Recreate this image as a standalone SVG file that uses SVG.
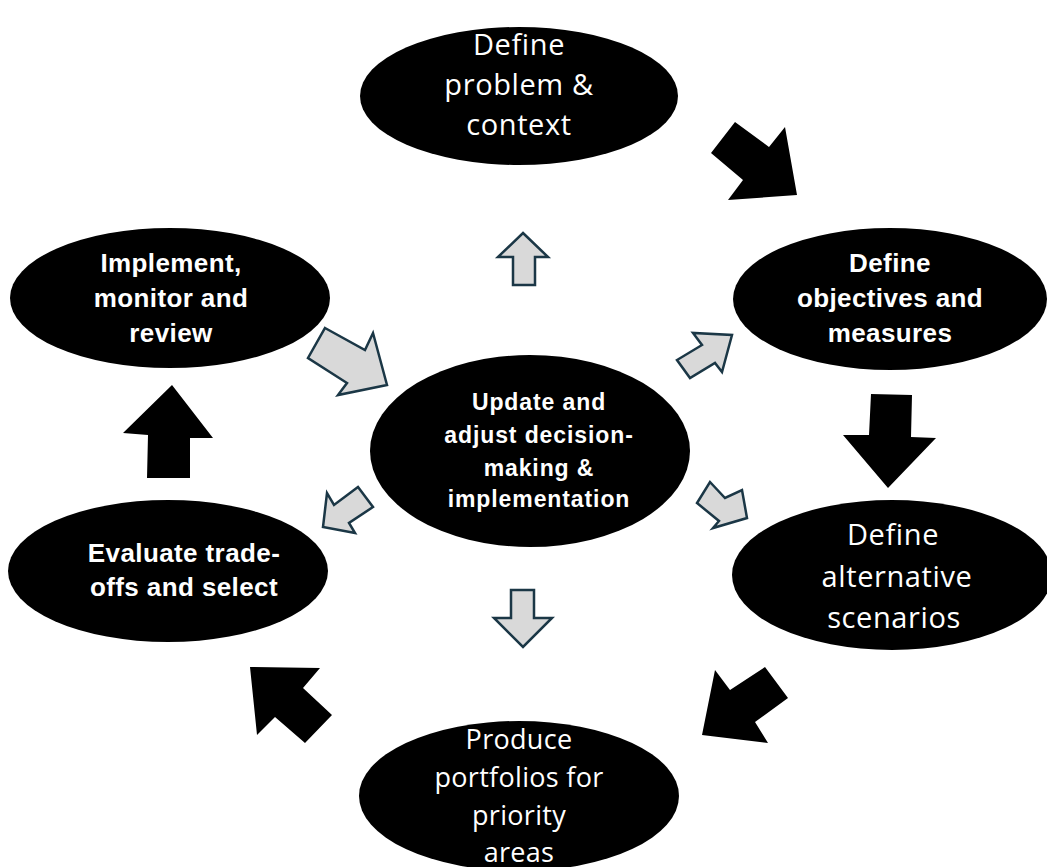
<svg xmlns="http://www.w3.org/2000/svg" width="1047" height="867" viewBox="0 0 1047 867">
  <style>
    .node { fill: #000; }
    .reg { font-family: "Open Sans", "Liberation Sans", sans-serif; font-size: 29px; letter-spacing: 0.6px; fill: #fff; text-anchor: middle; }
    .reg.small { font-size: 27px; letter-spacing: 0.3px; }
    .bold { font-family: "Liberation Sans", Arial, sans-serif; font-weight: bold; font-size: 26px; letter-spacing: 0.4px; fill: #fff; text-anchor: middle; }
    .hub { font-family: "Liberation Sans", Arial, sans-serif; font-weight: bold; font-size: 23px; letter-spacing: 0.9px; fill: #fff; text-anchor: middle; }
    .solid { fill: #000; }
    .light { fill: #d9d9d9; stroke: #1b3746; stroke-width: 2.5; stroke-linejoin: miter; }
  </style>
  <rect width="1047" height="867" fill="#fff"/>

  <g id="connectors">
    <!-- outer cycle: solid black block arrows -->
    <polygon class="solid" points="735,122 769,147 785,127 797,195 728,200 743,180 711,153"/>
    <polygon class="solid" points="871,394 912,395 911,437 936,438 888,488 843,435 869,435"/>
    <polygon class="solid" points="765,667 788,698 755,722 768,743 702,735 715,670 730,690"/>
    <polygon class="solid" points="250,667 320,668 303,688 332,715 305,743 275,717 257,735"/>
    <polygon class="solid" points="172,385 213,438 190,438 190,478 147,478 148,435 123,433"/>
    <!-- feedback hub: outlined grey block arrows -->
    <polygon class="light" points="325,328 365,350 373,333 387,385 338,395 347,383 308,358"/>
    <polygon class="light" points="523,233 548,257 535,257 535,285 513,285 513,257 498,257"/>
    <polygon class="light" points="732,335 722,372 715,363 690,378 677,360 702,345 693,333"/>
    <polygon class="light" points="710,482 725,498 742,490 747,518 713,528 719,521 697,503"/>
    <polygon class="light" points="358,487 373,507 349,523 355,533 323,527 327,493 334,505"/>
    <polygon class="light" points="511,590 534,590 534,618 552,618 523,647 494,618 511,618"/>
  </g>

  <g id="define-problem">
    <ellipse class="node" cx="519" cy="96" rx="159" ry="69"/>
    <text class="reg" x="519" y="55">Define</text>
    <text class="reg" x="519" y="95">problem &amp;</text>
    <text class="reg" x="519" y="135">context</text>
  </g>

  <g id="define-objectives">
    <ellipse class="node" cx="890" cy="299" rx="157" ry="71"/>
    <text class="bold" x="890" y="272">Define</text>
    <text class="bold" x="890" y="307">objectives and</text>
    <text class="bold" x="890" y="342">measures</text>
  </g>

  <g id="define-scenarios">
    <ellipse class="node" cx="892" cy="575" rx="160" ry="75"/>
    <text class="reg" x="893" y="545">Define</text>
    <text class="reg" x="897" y="587">alternative</text>
    <text class="reg" x="894" y="628">scenarios</text>
  </g>

  <g id="produce-portfolios">
    <ellipse class="node" cx="519" cy="796" rx="160" ry="75"/>
    <text class="reg small" x="519" y="749">Produce</text>
    <text class="reg small" x="519" y="787">portfolios for</text>
    <text class="reg small" x="519" y="825">priority</text>
    <text class="reg small" x="519" y="862">areas</text>
  </g>

  <g id="evaluate-tradeoffs">
    <ellipse class="node" cx="168" cy="571" rx="160" ry="71"/>
    <text class="bold" x="184" y="562">Evaluate trade-</text>
    <text class="bold" x="184" y="596">offs and select</text>
  </g>

  <g id="implement-review">
    <ellipse class="node" cx="170" cy="298" rx="160" ry="70"/>
    <text class="bold" x="171" y="272">Implement,</text>
    <text class="bold" x="171" y="307">monitor and</text>
    <text class="bold" x="171" y="342">review</text>
  </g>

  <g id="update-adjust">
    <ellipse class="node" cx="530" cy="451" rx="160" ry="96"/>
    <text class="hub" x="539" y="410">Update and</text>
    <text class="hub" x="539" y="443">adjust decision-</text>
    <text class="hub" x="539" y="476">making &amp;</text>
    <text class="hub" x="539" y="507">implementation</text>
  </g>
</svg>
